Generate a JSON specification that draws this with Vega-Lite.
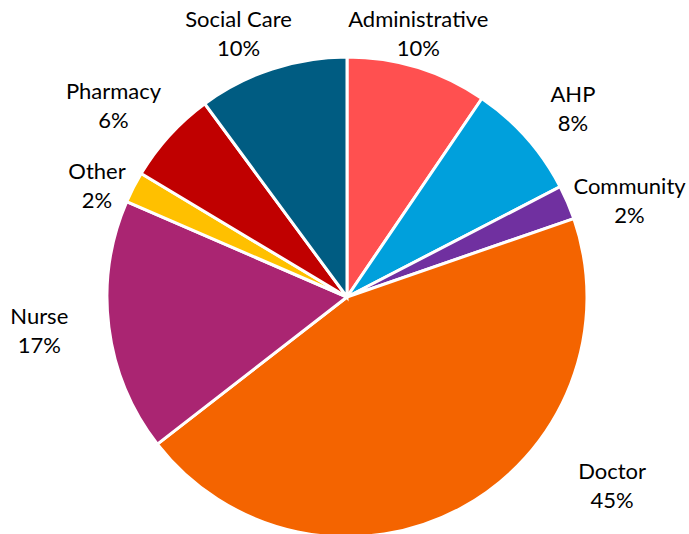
{
  "$schema": "https://vega.github.io/schema/vega-lite/v6.json",
  "width": 694,
  "height": 594,
  "autosize": {"type": "none"},
  "padding": 0,
  "background": "white",
  "config": {"view": {"stroke": null}},
  "data": {
    "values": [
      {"category": "Administrative", "value": 9.5},
      {"category": "AHP", "value": 7.9},
      {"category": "Community", "value": 2.3},
      {"category": "Doctor", "value": 44.8},
      {"category": "Nurse", "value": 17.0},
      {"category": "Other", "value": 2.1},
      {"category": "Pharmacy", "value": 6.3},
      {"category": "Social Care", "value": 10.1}
    ]
  },
  "transform": [
    {"calculate": "lower(datum.category)", "as": "sortKey"},
    {"stack": "value", "groupby": [], "sort": [{"field": "sortKey", "order": "ascending"}], "as": ["v0", "v1"]},
    {"calculate": "(datum.v0 + datum.v1) / 2", "as": "mid"},
    {"calculate": "datum.category + '\\n' + format(datum.value / 100, '.0%')", "as": "label"}
  ],
  "layer": [
    {
      "mark": {"type": "arc", "outerRadius": 240, "stroke": "white", "strokeWidth": 3},
      "encoding": {
        "theta": {"field": "v0", "type": "quantitative", "scale": {"domain": [0, 100]}},
        "theta2": {"field": "v1"},
        "color": {
          "field": "category",
          "type": "nominal",
          "scale": {
            "domain": ["Administrative", "AHP", "Community", "Doctor", "Nurse", "Other", "Pharmacy", "Social Care"],
            "range": ["#FF5050", "#00A0DC", "#7030A0", "#F46400", "#AA2572", "#FFC000", "#C00000", "#005C82"]
          },
          "legend": null
        }
      }
    },
    {"transform": [{"filter": "datum.category == 'Administrative'"}], "mark": {"type": "text", "radius": 290, "dx": -14, "dy": 0, "font": "Lato", "fontSize": 22, "lineHeight": 29, "lineBreak": "\n", "align": "center", "baseline": "middle", "fill": "#000000"}, "encoding": {"theta": {"field": "mid", "type": "quantitative", "scale": {"domain": [0, 100]}}, "text": {"field": "label"}}},
    {"transform": [{"filter": "datum.category == 'AHP'"}], "mark": {"type": "text", "radius": 290, "dx": 9, "dy": -10, "font": "Lato", "fontSize": 22, "lineHeight": 29, "lineBreak": "\n", "align": "center", "baseline": "middle", "fill": "#000000"}, "encoding": {"theta": {"field": "mid", "type": "quantitative", "scale": {"domain": [0, 100]}}, "text": {"field": "label"}}},
    {"transform": [{"filter": "datum.category == 'Community'"}], "mark": {"type": "text", "radius": 290, "dx": 16, "dy": 4, "font": "Lato", "fontSize": 22, "lineHeight": 29, "lineBreak": "\n", "align": "center", "baseline": "middle", "fill": "#000000"}, "encoding": {"theta": {"field": "mid", "type": "quantitative", "scale": {"domain": [0, 100]}}, "text": {"field": "label"}}},
    {"transform": [{"filter": "datum.category == 'Doctor'"}], "mark": {"type": "text", "radius": 290, "dx": 127, "dy": -80, "font": "Lato", "fontSize": 22, "lineHeight": 29, "lineBreak": "\n", "align": "center", "baseline": "middle", "fill": "#000000"}, "encoding": {"theta": {"field": "mid", "type": "quantitative", "scale": {"domain": [0, 100]}}, "text": {"field": "label"}}},
    {"transform": [{"filter": "datum.category == 'Nurse'"}], "mark": {"type": "text", "radius": 290, "dx": -20, "dy": -16, "font": "Lato", "fontSize": 22, "lineHeight": 29, "lineBreak": "\n", "align": "center", "baseline": "middle", "fill": "#000000"}, "encoding": {"theta": {"field": "mid", "type": "quantitative", "scale": {"domain": [0, 100]}}, "text": {"field": "label"}}},
    {"transform": [{"filter": "datum.category == 'Other'"}], "mark": {"type": "text", "radius": 290, "dx": 8, "dy": 7, "font": "Lato", "fontSize": 22, "lineHeight": 29, "lineBreak": "\n", "align": "center", "baseline": "middle", "fill": "#000000"}, "encoding": {"theta": {"field": "mid", "type": "quantitative", "scale": {"domain": [0, 100]}}, "text": {"field": "label"}}},
    {"transform": [{"filter": "datum.category == 'Pharmacy'"}], "mark": {"type": "text", "radius": 290, "dx": -19, "dy": -10, "font": "Lato", "fontSize": 22, "lineHeight": 29, "lineBreak": "\n", "align": "center", "baseline": "middle", "fill": "#000000"}, "encoding": {"theta": {"field": "mid", "type": "quantitative", "scale": {"domain": [0, 100]}}, "text": {"field": "label"}}},
    {"transform": [{"filter": "datum.category == 'Social Care'"}], "mark": {"type": "text", "radius": 290, "dx": -18, "dy": -1, "font": "Lato", "fontSize": 22, "lineHeight": 29, "lineBreak": "\n", "align": "center", "baseline": "middle", "fill": "#000000"}, "encoding": {"theta": {"field": "mid", "type": "quantitative", "scale": {"domain": [0, 100]}}, "text": {"field": "label"}}}
  ]
}
